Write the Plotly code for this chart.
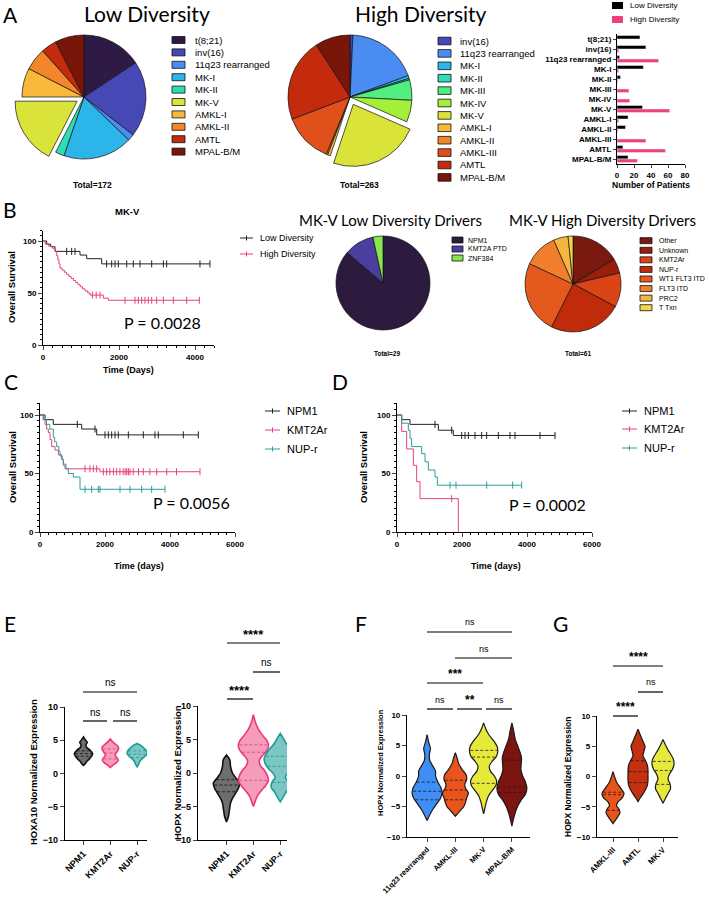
import numpy as np
import plotly.graph_objects as go

W, H = 709, 906
def X(p): return p / W
def Y(p): return 1 - p / H

FONT = "Liberation Sans, Arial, sans-serif"
TFONT = "Lato, Carlito, Calibri, sans-serif"

# ---------------- DATA ----------------
# Panel A
subtypes_low = ["t(8;21)", "inv(16)", "11q23 rearranged", "MK-I", "MK-II", "MK-V",
                "AMKL-I", "AMKL-II", "AMTL", "MPAL-B/M"]
counts_low = [27, 34, 3, 31, 4, 30, 13, 10, 7, 13]
subtypes_high = ["inv(16)", "11q23 rearranged", "MK-I", "MK-II", "MK-III", "MK-IV", "MK-V",
                 "AMKL-I", "AMKL-II", "AMKL-III", "AMTL", "MPAL-B/M"]
counts_high = [2, 49, 2, 1, 14, 15, 62, 2, 1, 34, 57, 24]
bar_categories = ["t(8;21)", "inv(16)", "11q23 rearranged", "MK-I", "MK-II", "MK-III", "MK-IV",
                  "MK-V", "AMKL-I", "AMKL-II", "AMKL-III", "AMTL", "MPAL-B/M"]
bar_ticks = [0, 20, 40, 60, 80]
subtype_colors = ["#2E1A45", "#4548B5", "#4A8CF2", "#2BB5E8", "#2FDDB5", "#4FF07F", "#A3F03A",
                  "#D9E33A", "#F8B83A", "#F3852A", "#E0501A", "#C32B0C", "#7A150A"]

# Panel B pies
drivers_low = ["NPM1", "KMT2A PTD", "ZNF384"]
drivers_low_counts = [25, 3, 1]
drivers_low_colors = ["#2D1A3F", "#4A3F9E", "#86E84E"]
drivers_high = ["Other", "Unknown", "KMT2Ar", "NUP-r", "WT1 FLT3 ITD", "FLT3 ITD", "PRC2", "T Txn"]
drivers_high_counts = [10, 3, 7, 15, 15, 7, 3, 1]
drivers_high_colors = ["#7A1A0E", "#9A1E0C", "#DA4416", "#C02C0A", "#E45A1E", "#F07E2C", "#F6B440", "#F0D848"]

# Panel B KM (MK-V)
b_low_t = [0, 96, 200, 316, 974, 1149, 1544]
b_low_s = [100, 97, 94.5, 90, 86.5, 83, 78]
b_low_end = 4394
b_low_cens = [623, 754, 842, 1675, 1807, 1895, 1982, 2202, 2377, 2553, 2860, 3167, 3254, 4131, 4394]
b_high_t = [0, 60, 150, 250, 330, 360, 390, 420, 447, 500, 560, 620, 680, 740, 800, 860, 920,
            980, 1040, 1105, 1180, 1237, 1588, 1719]
b_high_s = [100, 97, 95, 93, 90, 86, 82, 78, 74, 72, 70, 68, 66, 64, 62, 60, 58, 56, 54, 52, 50,
            48, 45, 43]
b_high_end = 4114
b_high_cens = [1300, 1400, 1500, 2158, 2421, 2509, 2596, 2684, 2772, 2860, 2991, 3167, 3430, 3781, 4114]

# Panel C KM
c_npm1_t = [0, 154, 410, 1282, 1744]
c_npm1_s = [100, 96, 92, 88, 83]
c_npm1_end = 4872
c_npm1_cens = [1149, 1692, 2000, 2103, 2205, 2308, 2410, 2718, 3179, 3538, 3641, 4410, 4872]
c_kmt_t = [0, 100, 154, 205, 256, 308, 359, 462, 564, 667, 718, 769, 1846]
c_kmt_s = [100, 96, 92, 88, 85, 79, 73, 70, 66, 62, 57, 54, 51.5]
c_kmt_end = 4923
c_kmt_cens = [1385, 1538, 1641, 1744, 1950, 2050, 2150, 2260, 2360, 2460, 2560, 2620, 2670, 2720,
              2770, 2870, 3030, 3180, 3380, 3590, 3900, 4200, 4923]
c_nup_t = [0, 100, 200, 300, 410, 450, 513, 580, 615, 680, 718, 800, 872, 1026, 1231]
c_nup_s = [100, 96, 92, 88, 81, 77, 73, 69, 65, 62, 58, 54, 50, 47, 36.5]
c_nup_end = 3846
c_nup_cens = [1385, 1590, 1795, 1846, 2462, 2769, 3128, 3436, 3846]

# Panel D KM
d_npm1_t = [0, 144, 400, 1272, 1733]
d_npm1_s = [100, 96, 92, 87, 82.5]
d_npm1_end = 4862
d_npm1_cens = [1169, 1682, 1990, 2092, 2195, 2400, 2605, 2759, 3118, 3477, 3631, 4400, 4862]
d_kmt_t = [0, 144, 297, 503, 605, 708, 1887]
d_kmt_s = [100, 86, 71, 57, 43, 28.5, 0]
d_kmt_end = 1887
d_kmt_cens = [1682]
d_nup_t = [0, 144, 349, 400, 451, 759, 862, 964, 1169, 1241]
d_nup_s = [100, 93, 87, 80, 73, 67, 60, 53, 47, 40]
d_nup_end = 3836
d_nup_cens = [1631, 1815, 2759, 3559, 3836]

# Panel E/F/G violins: density profiles (level, half-width) and quartiles
e_groups = ["NPM1", "KMT2Ar", "NUP-r"]
e_fill = ["#6E6E6E", "#F59BBB", "#7CC6C3"]
e_line = ["#111111", "#EA3A75", "#1A9C98"]
hoxa10_levels = [[5.5, 5.0, 4.7, 4.3, 3.9, 3.5, 3.0, 2.6, 2.2, 1.8, 1.4, 1.2],
                 [5.2, 4.8, 4.4, 4.0, 3.6, 3.2, 2.8, 2.4, 2.0, 1.6, 1.2, 0.9],
                 [4.5, 4.2, 3.8, 3.4, 3.0, 2.6, 2.2, 1.8, 1.4, 1.0]]
hoxa10_widths = [[0, 0.08, 0.14, 0.09, 0.12, 0.25, 0.34, 0.30, 0.22, 0.12, 0.05, 0],
                 [0, 0.08, 0.2, 0.3, 0.3, 0.24, 0.18, 0.24, 0.3, 0.22, 0.08, 0],
                 [0, 0.15, 0.26, 0.35, 0.37, 0.3, 0.18, 0.1, 0.06, 0]]
hoxa10_quart = [[3.4, 3.0, 2.6], [3.7, 3.1, 2.2], [3.4, 2.9, 2.4]]

hopx_e_levels = [[2.7, 2.0, 1.0, 0.0, -0.7, -1.5, -2.2, -3.0, -3.8, -4.5, -5.5, -6.5, -7.3],
                 [8.7, 7.5, 6.5, 5.5, 4.7, 4.0, 3.3, 2.6, 1.9, 1.1, 0.4, -0.4, -1.1, -1.9, -2.6, -3.4, -4.2, -5.0],
                 [5.9, 5.2, 4.4, 3.7, 2.9, 2.2, 1.4, 0.7, -0.1, -0.7, -1.3, -2.1, -2.8, -3.6, -4.3]]
hopx_e_widths = [[0, 0.12, 0.15, 0.22, 0.34, 0.49, 0.45, 0.34, 0.22, 0.15, 0.11, 0.07, 0],
                 [0, 0.08, 0.19, 0.37, 0.52, 0.56, 0.49, 0.34, 0.22, 0.26, 0.41, 0.52, 0.56, 0.45, 0.3, 0.15, 0.07, 0],
                 [0, 0.11, 0.22, 0.37, 0.52, 0.6, 0.56, 0.45, 0.26, 0.19, 0.3, 0.34, 0.22, 0.11, 0]]
hopx_e_quart = [[-1.0, -1.8, -2.8], [4.2, 3.1, -1.1], [2.5, 1.0, -1.4]]

f_groups = ["11q23 rearranged", "AMKL-III", "MK-V", "MPAL-B/M"]
f_fill = ["#3E8EF6", "#E8541C", "#E6E93A", "#7C1410"]
hopx_f_levels = [[6.8, 5.5, 4.5, 3.5, 2.5, 1.5, 0.8, 0, -1.0, -2.0, -2.8, -3.6, -4.5, -5.5, -6.5, -7.3],
                 [3.8, 3.0, 2.0, 1.0, 0.2, -0.6, -1.4, -2.0, -2.8, -3.6, -4.3, -5.0, -5.8, -6.6],
                 [8.7, 7.8, 6.8, 5.8, 4.8, 4.0, 3.2, 2.4, 1.6, 0.8, 0, -0.8, -1.6, -2.4, -3.2, -4.2, -5.2, -6.2],
                 [8.7, 7.5, 6.0, 5.0, 4.0, 3.0, 2.0, 1.0, 0, -1.0, -2.0, -3.0, -4.0, -5.0, -6.0, -7.0, -8.2]]
hopx_f_widths = [[0, 0.06, 0.12, 0.08, 0.1, 0.22, 0.3, 0.3, 0.38, 0.5, 0.53, 0.48, 0.35, 0.2, 0.08, 0],
                 [0, 0.06, 0.12, 0.25, 0.38, 0.4, 0.33, 0.36, 0.46, 0.4, 0.36, 0.3, 0.15, 0],
                 [0, 0.07, 0.18, 0.35, 0.48, 0.5, 0.45, 0.3, 0.2, 0.24, 0.38, 0.46, 0.43, 0.3, 0.18, 0.1, 0.05, 0],
                 [0, 0.06, 0.12, 0.2, 0.28, 0.34, 0.33, 0.32, 0.38, 0.48, 0.53, 0.48, 0.32, 0.2, 0.12, 0.06, 0]]
hopx_f_quart = [[-1.0, -2.5, -3.9], [-0.7, -2.3, -3.9], [4.2, 3.1, -1.2], [2.6, -1.8, -2.7]]

g_groups = ["AMKL-III", "AMTL", "MK-V"]
g_fill = ["#E8541C", "#C53010", "#E6E93A"]
hopx_g_levels = [[0.8, 0, -1.0, -2.0, -2.8, -3.5, -4.2, -4.8, -5.4, -6.0, -6.6, -7.2, -7.8],
                 [7.8, 7.0, 6.0, 5.0, 4.2, 3.4, 2.6, 1.8, 1.0, 0.2, -0.6, -1.4, -2.2, -3.0, -3.6, -4.2],
                 [6.1, 5.2, 4.4, 3.6, 2.8, 2.0, 1.2, 0.4, -0.4, -1.2, -2.0, -2.8, -3.6, -4.4]]
hopx_g_widths = [[0, 0.06, 0.15, 0.32, 0.44, 0.38, 0.2, 0.14, 0.24, 0.28, 0.2, 0.1, 0],
                 [0, 0.08, 0.18, 0.28, 0.24, 0.2, 0.3, 0.38, 0.4, 0.4, 0.4, 0.38, 0.3, 0.18, 0.08, 0],
                 [0, 0.1, 0.2, 0.32, 0.42, 0.44, 0.38, 0.26, 0.2, 0.28, 0.3, 0.2, 0.1, 0]]
hopx_g_quart = [[-2.6, -3.0, -5.6], [2.6, 0.8, -1.0], [2.5, 1.0, -1.3]]

BLACK, PINK, TEAL = "#222222", "#E8417C", "#2A9E99"

# ---------------- FIGURE ----------------
fig = go.Figure()
shapes, annots = [], []
layout = {}

def text(x, y, s, size=9, bold=False, family=FONT, xa="center", ya="middle", angle=0):
    annots.append(dict(x=X(x), y=Y(y), xref="paper", yref="paper", text=s, showarrow=False,
                       xanchor=xa, yanchor=ya, textangle=angle,
                       font=dict(family=family, size=size, color="black",
                                 weight="bold" if bold else "normal")))

def rect(x0, y0, x1, y1, fill, lw=0.8):
    shapes.append(dict(type="rect", xref="paper", yref="paper", x0=X(x0), x1=X(x1),
                       y0=Y(y1), y1=Y(y0), fillcolor=fill, line=dict(color="#111", width=lw)))

def seg(x0, y0, x1, y1, color="black", lw=1.2):
    shapes.append(dict(type="line", xref="paper", yref="paper", x0=X(x0), x1=X(x1),
                       y0=Y(y0), y1=Y(y1), line=dict(color=color, width=lw)))

col = dict(zip(bar_categories, subtype_colors))

# ---- Panel A pies
def pie(labels, values, colors, cx, cy, r, pull_label=None, pull=0.13):
    p = [pull if l == pull_label else 0 for l in labels]
    half = r * (1 + (pull if pull_label else 0))
    fig.add_trace(go.Pie(labels=labels, values=values, sort=False, direction="clockwise",
                         rotation=0, textinfo="none", pull=p, showlegend=False, hoverinfo="skip",
                         automargin=False,
                         marker=dict(colors=colors, line=dict(color="#111", width=0.7)),
                         domain=dict(x=[X(cx - half), X(cx + half)], y=[Y(cy + half), Y(cy - half)])))

pie(subtypes_low, counts_low, [col[s] for s in subtypes_low], 84, 97, 62, "MK-V")
pie(subtypes_high, counts_high, [col[s] for s in subtypes_high], 350, 97, 62, "MK-V")

text(10, 15, "A", 21, family=TFONT)
text(147, 14, "Low Diversity", 21, family=TFONT)
text(421, 14, "High Diversity", 21, family=TFONT)
for i, s in enumerate(subtypes_low):
    yy = 40 + i * 12.4
    rect(172, yy - 3.5, 185, yy + 3.5, col[s])
    text(193, yy, s, 9.5, xa="left")
for i, s in enumerate(subtypes_high):
    yy = 41 + i * 12.4
    rect(438, yy - 3.8, 451, yy + 3.8, col[s])
    text(458, yy, s, 9.5, xa="left")
text(92, 185, "Total=%d" % sum(counts_low), 8.5, bold=True)
text(359, 185, "Total=%d" % sum(counts_high), 8.5, bold=True)

# ---- Panel A bar chart
low_map = dict(zip(subtypes_low, counts_low))
high_map = dict(zip(subtypes_high, counts_high))
bar_low = [low_map.get(c, 0) for c in bar_categories]
bar_high = [high_map.get(c, 0) for c in bar_categories]
fig.add_trace(go.Bar(y=bar_categories, x=bar_low, orientation="h", marker_color="black",
                     xaxis="x", yaxis="y", showlegend=False, hoverinfo="skip"))
fig.add_trace(go.Bar(y=bar_categories, x=bar_high, orientation="h", marker_color="#F0407A",
                     xaxis="x", yaxis="y", showlegend=False, hoverinfo="skip"))
layout["xaxis"] = dict(domain=[X(617), X(685)], range=[0, 80], anchor="y", side="bottom",
                       showline=True, linecolor="black", linewidth=1, ticks="outside", ticklen=3,
                       tickmode="array", tickvals=bar_ticks, automargin=False,
                       tickfont=dict(family=FONT, size=8, weight="bold"), showgrid=False, zeroline=False)
layout["yaxis"] = dict(domain=[Y(164), Y(34)], type="category", categoryorder="array",
                       categoryarray=bar_categories, range=[12.5, -0.5], anchor="x", side="left",
                       showline=True, linecolor="black", linewidth=1, ticks="outside", ticklen=3,
                       tickmode="array", tickvals=bar_categories, automargin=False,
                       tickfont=dict(family=FONT, size=8, weight="bold"), showgrid=False)
rect(612, 2, 623, 9, "black", 0)
rect(612, 16, 623, 23, "#F0407A", 0)
text(628, 5.5, "Low Diversity", 8, xa="left")
text(628, 19.5, "High Diversity", 8, xa="left")
text(651, 185, "Number of Patients", 8.5, bold=True)

# ---- Panel B drivers pies
pie(drivers_low, drivers_low_counts, drivers_low_colors, 383, 283, 47)
pie(drivers_high, drivers_high_counts, drivers_high_colors, 573, 284, 48)
text(390, 220, "MK-V Low Diversity Drivers", 15, family=TFONT)
text(602, 220, "MK-V High Diversity Drivers", 15, family=TFONT)
for i, s in enumerate(drivers_low):
    yy = 240 + i * 9
    rect(452, yy - 3, 463, yy + 3, drivers_low_colors[i])
    text(466, yy, s, 7, xa="left")
for i, s in enumerate(drivers_high):
    yy = 240.7 + i * 9.57
    rect(640, yy - 3, 652, yy + 3, drivers_high_colors[i])
    text(657, yy, s, 7, xa="left")
text(387, 353, "Total=%d" % sum(drivers_low_counts), 6.5, bold=True)
text(578, 353, "Total=%d" % sum(drivers_high_counts), 6.5, bold=True)

# ---- KM helpers
def km(n, t, s, end, cens, color):
    t = list(t); s = list(s)
    xs = t + [end]; ys = s + [s[-1]]
    fig.add_trace(go.Scatter(x=xs, y=ys, mode="lines", line=dict(color=color, width=1, shape="hv"),
                             xaxis="x%d" % n, yaxis="y%d" % n, showlegend=False, hoverinfo="skip"))
    idx = np.searchsorted(np.array(t), np.array(cens), side="right") - 1
    cy = [s[i] for i in idx]
    fig.add_trace(go.Scatter(x=cens, y=cy, mode="markers", xaxis="x%d" % n, yaxis="y%d" % n,
                             marker=dict(symbol="line-ns", size=5, line=dict(color=color, width=1)),
                             showlegend=False, hoverinfo="skip"))

def km_axes(n, x0, x1, ytop, ybot, xmax):
    tf = dict(family=FONT, size=8, weight="bold")
    layout["xaxis%d" % n] = dict(domain=[X(x0), X(x1)], range=[0, xmax], anchor="y%d" % n,
                                 showline=True, linecolor="black", linewidth=1, ticks="outside",
                                 ticklen=4, tickmode="linear", tick0=0, dtick=2000, tickfont=tf,
                                 showgrid=False, zeroline=False, automargin=False,
                                 minor=dict(ticks="outside", ticklen=2, dtick=250, tick0=0,
                                            tickcolor="black", showgrid=False))
    layout["yaxis%d" % n] = dict(domain=[Y(ybot), Y(ytop)], range=[0, 110], anchor="x%d" % n,
                                 showline=True, linecolor="black", linewidth=1, ticks="outside",
                                 ticklen=4, tickmode="array", tickvals=[0, 50, 100], tickfont=tf,
                                 showgrid=False, zeroline=False, automargin=False,
                                 minor=dict(ticks="outside", ticklen=2, dtick=5, tick0=0,
                                            tickcolor="black", showgrid=False))

def km_legend(x0, x1, ys, labels, colors, size):
    for yy, lab, c in zip(ys, labels, colors):
        seg(x0, yy, x1, yy, c, 1)
        seg((x0 + x1) / 2, yy - 2.5, (x0 + x1) / 2, yy + 2.5, c, 1)
        text(x1 + 5, yy, lab, size, xa="left")

# Panel B KM
km_axes(2, 43, 214, 230.6, 345, 4500)
km(2, b_low_t, b_low_s, b_low_end, b_low_cens, BLACK)
km(2, b_high_t, b_high_s, b_high_end, b_high_cens, PINK)
text(10, 210, "B", 21, family=TFONT)
text(127, 212, "MK-V", 9.5, bold=True)
text(12, 287, "Overall Survival", 9.5, bold=True, angle=-90)
text(128, 370, "Time (Days)", 9, bold=True)
text(162, 323, "P = 0.0028", 16, family=TFONT)
km_legend(240, 253, [238, 254], ["Low Diversity", "High Diversity"], [BLACK, PINK], 9)

# Panel C KM
km_axes(3, 40, 235, 403.3, 532, 6000)
km(3, c_npm1_t, c_npm1_s, c_npm1_end, c_npm1_cens, BLACK)
km(3, c_kmt_t, c_kmt_s, c_kmt_end, c_kmt_cens, PINK)
km(3, c_nup_t, c_nup_s, c_nup_end, c_nup_cens, TEAL)
text(11, 382, "C", 21, family=TFONT)
text(13, 467, "Overall Survival", 9.5, bold=True, angle=-90)
text(139, 566, "Time (days)", 9, bold=True)
text(191, 503, "P = 0.0056", 16, family=TFONT)
km_legend(265, 280, [411, 430, 449], e_groups, [BLACK, PINK, TEAL], 11)

# Panel D KM
km_axes(4, 397, 592, 403.3, 532, 6000)
km(4, d_npm1_t, d_npm1_s, d_npm1_end, d_npm1_cens, BLACK)
km(4, d_kmt_t, d_kmt_s, d_kmt_end, d_kmt_cens, PINK)
km(4, d_nup_t, d_nup_s, d_nup_end, d_nup_cens, TEAL)
text(340, 382, "D", 21, family=TFONT)
text(364, 467, "Overall Survival", 9.5, bold=True, angle=-90)
text(496, 566, "Time (days)", 9, bold=True)
text(547, 505, "P = 0.0002", 16, family=TFONT)
km_legend(622, 637, [411, 429, 448], e_groups, [BLACK, PINK, TEAL], 11)

# ---- Violin helpers
def violin(n, c, ys, ws, fill, line, qs, lw=1.6):
    ys = np.array(ys, float); ws = np.array(ws, float)
    px = np.concatenate([c + ws, (c - ws)[::-1], [c + ws[0]]])
    py = np.concatenate([ys, ys[::-1], [ys[0]]])
    fig.add_trace(go.Scatter(x=px, y=py, mode="lines", fill="toself", fillcolor=fill,
                             line=dict(color=line, width=lw, shape="spline", smoothing=0.8),
                             xaxis="x%d" % n, yaxis="y%d" % n, showlegend=False, hoverinfo="skip"))
    for q in qs:
        wq = np.interp(q, ys[::-1], ws[::-1]) * 0.95
        fig.add_trace(go.Scatter(x=[c - wq, c + wq], y=[q, q], mode="lines",
                                 line=dict(color=line, width=0.8, dash="3px,2px"),
                                 xaxis="x%d" % n, yaxis="y%d" % n, showlegend=False, hoverinfo="skip"))

def vio_axes(n, x0, x1, ytop, ybot, xr, labels, tsize, ysize):
    layout["xaxis%d" % n] = dict(domain=[X(x0), X(x1)], range=xr, anchor="y%d" % n, showline=True,
                                 linecolor="black", linewidth=1.2, ticks="outside", ticklen=4,
                                 tickvals=list(range(len(labels))), ticktext=labels, tickangle=-45,
                                 tickfont=dict(family=FONT, size=tsize, weight="bold"),
                                 showgrid=False, zeroline=False, automargin=False)
    layout["yaxis%d" % n] = dict(domain=[Y(ybot), Y(ytop)], range=[-10, 10], anchor="x%d" % n,
                                 showline=True, linecolor="black", linewidth=1.2, ticks="outside",
                                 ticklen=4, tickmode="linear", tick0=-10, dtick=5,
                                 tickfont=dict(family=FONT, size=ysize, weight="bold"),
                                 showgrid=False, zeroline=False, automargin=False)

def bracket(x0, x1, yl, label, ty, size, bold=False):
    seg(x0, yl, x1, yl, "black", 1.2)
    text((x0 + x1) / 2, ty, label, size, bold=bold)

# Panel E
vio_axes(5, 65, 147, 707, 840, [-0.69, 2.37], e_groups, 9, 9)
for i in range(3):
    violin(5, i, hoxa10_levels[i], hoxa10_widths[i], e_fill[i], e_line[i], hoxa10_quart[i])
vio_axes(6, 198, 287, 706, 840, [-1.06, 2.25], e_groups, 9, 9)
for i in range(3):
    violin(6, i, hopx_e_levels[i], hopx_e_widths[i], e_fill[i], e_line[i], hopx_e_quart[i])
text(10, 623, "E", 21, family=TFONT)
text(33, 772, "HOXA10 Normalized Expression", 9.5, bold=True, angle=-90)
text(177, 773, "HOPX Normalized Expression", 9.5, bold=True, angle=-90)
bracket(83, 137, 692, "ns", 682, 10)
bracket(83, 107, 721, "ns", 712, 10)
bracket(113, 137, 721, "ns", 712, 10)
bracket(227, 280, 643, "****", 634, 13, True)
bracket(253, 280, 672, "ns", 662, 10)
bracket(227, 253, 699, "****", 690, 13, True)

# Panel F
vio_axes(7, 407, 530, 715, 837, [-0.71, 3.64], f_groups, 7.5, 8)
for i in range(4):
    violin(7, i, hopx_f_levels[i], hopx_f_widths[i], f_fill[i], "#1A1A1A", hopx_f_quart[i], 1.2)
text(361, 623, "F", 21, family=TFONT)
text(380, 763, "HOPX Normalized Expression", 7.5, bold=True, angle=-90)
bracket(427, 512, 632, "ns", 622, 9)
bracket(455, 512, 658, "ns", 649, 9)
bracket(427, 483, 683, "***", 674, 12, True)
bracket(427, 453, 709, "ns", 700, 9)
bracket(457, 482, 709, "**", 700, 12, True)
bracket(486, 512, 709, "ns", 700, 9)

# Panel G
vio_axes(8, 597, 678, 716, 837, [-0.64, 2.6], g_groups, 8, 8)
for i in range(3):
    violin(8, i, hopx_g_levels[i], hopx_g_widths[i], g_fill[i], "#1A1A1A", hopx_g_quart[i], 1.2)
text(560, 623, "G", 21, family=TFONT)
text(568, 777, "HOPX Normalized Expression", 8.5, bold=True, angle=-90)
bracket(613, 663, 666, "****", 657, 12, True)
bracket(638, 663, 692, "ns", 682, 9)
bracket(613, 638, 716, "****", 707, 12, True)

fig.update_layout(width=W, height=H, margin=dict(l=0, r=0, t=0, b=0, pad=0), autosize=False,
                  paper_bgcolor="white", plot_bgcolor="white", barmode="group",
                  bargap=0.3, bargroupgap=0, shapes=shapes, annotations=annots,
                  font=dict(family=FONT, color="black"), **layout)
fig.write_html("out.html")
